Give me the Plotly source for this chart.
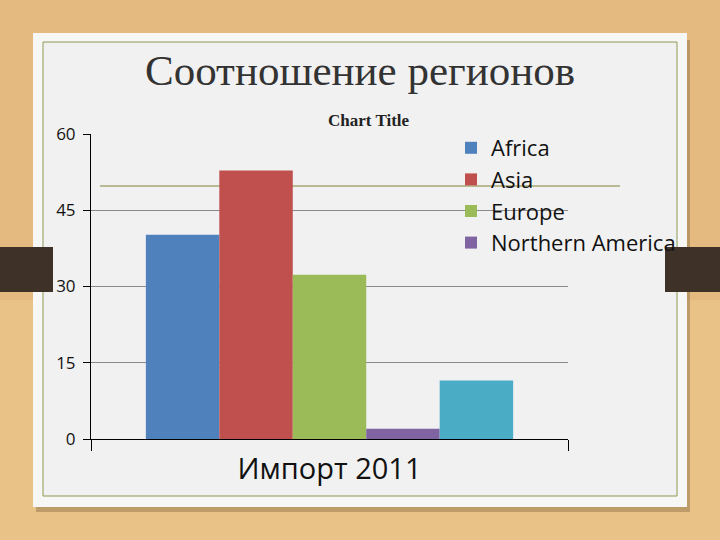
import plotly.graph_objects as go

W, H = 720, 540

category = ["Импорт 2011"]
series_names = ["Africa", "Asia", "Europe", "Northern America", "Other"]
series_values = [40.2, 52.8, 32.3, 2.0, 11.5]
series_colors = ["#4F81BD", "#C0504D", "#9BBB59", "#8064A2", "#4BACC6"]
series_in_legend = [True, True, True, True, False]
y_ticks = [0, 15, 30, 45, 60]

slide_title = "Соотношение регионов"
chart_title = "Chart Title"


def px_x(x):
    return x / W


def px_y(y):
    return 1 - y / H


fig = go.Figure()
for name, val, col, leg in zip(series_names, series_values, series_colors, series_in_legend):
    fig.add_trace(go.Bar(x=category, y=[val], name=name, marker=dict(color=col, line=dict(width=0)),
                         showlegend=leg))

shapes = [
    # lighter lower background band
    dict(type="rect", xref="paper", yref="paper", x0=0, x1=1, y0=0, y1=px_y(300),
         fillcolor="rgba(240,208,150,0.35)", line=dict(width=0), layer="below"),
    # card shadow
    dict(type="rect", xref="paper", yref="paper", x0=px_x(36), x1=px_x(690), y0=px_y(512), y1=px_y(40),
         fillcolor="rgba(90,70,40,0.30)", line=dict(width=0), layer="below"),
    # card
    dict(type="rect", xref="paper", yref="paper", x0=px_x(33), x1=px_x(687), y0=px_y(507), y1=px_y(33),
         fillcolor="#f7f7f5", line=dict(width=0), layer="below"),
    # inner panel
    dict(type="rect", xref="paper", yref="paper", x0=px_x(43), x1=px_x(677), y0=px_y(496), y1=px_y(42),
         fillcolor="#f1f1f1", line=dict(color="#8e9a55", width=1), layer="below"),
    # decorative olive line
    dict(type="line", xref="paper", yref="paper", x0=px_x(100), x1=px_x(620), y0=px_y(186), y1=px_y(186),
         line=dict(color="#a6a775", width=1.5), layer="below"),
    # side tabs
    dict(type="rect", xref="paper", yref="paper", x0=0, x1=px_x(53), y0=px_y(292), y1=px_y(247),
         fillcolor="#3e3228", line=dict(width=0), layer="below"),
    dict(type="rect", xref="paper", yref="paper", x0=px_x(665), x1=1, y0=px_y(292), y1=px_y(247),
         fillcolor="#3e3228", line=dict(width=0), layer="below"),
]

fig.update_layout(
    width=W, height=H,
    autosize=False,
    margin=dict(l=0, r=0, t=0, b=0, pad=0, autoexpand=False),
    paper_bgcolor="#e4ba80",
    plot_bgcolor="rgba(0,0,0,0)",
    barmode="group",
    bargap=0.23,
    bargroupgap=0,
    shapes=shapes,
    title=dict(text=slide_title, x=0.5, xanchor="center", y=px_y(70), yanchor="middle",
               font=dict(family="Liberation Serif", size=43, color="#333333")),
    legend=dict(x=px_x(451), y=px_y(127), xanchor="left", yanchor="top",
                bgcolor="rgba(0,0,0,0)", font=dict(family="Open Sans", size=22, color="#111111"),
                tracegroupgap=0),
    annotations=[dict(text="<b>" + chart_title + "</b>", xref="paper", yref="paper", x=px_x(369), y=px_y(120),
                      xanchor="center", yanchor="middle", showarrow=False,
                      font=dict(family="Liberation Serif", size=17, color="#222222"))],
    xaxis=dict(domain=[px_x(91), px_x(568)], type="category", showline=True, linecolor="black",
               linewidth=1, ticks="outside", tickson="boundaries", ticklen=11, tickcolor="black",
               showgrid=False, tickfont=dict(family="Open Sans", size=29, color="#111111"),
               ticklabelstandoff=4, automargin=False),
    yaxis=dict(domain=[px_y(439), px_y(134)], range=[0, 60], tickvals=y_ticks, showline=True,
               linecolor="black", linewidth=1, ticks="outside", ticklen=7, tickcolor="black",
               showgrid=True, gridcolor="#8a8a8a", gridwidth=1, zeroline=False,
               tickfont=dict(family="Open Sans", size=17, color="#111111"), ticklabelstandoff=4,
               automargin=False),
)

fig.write_html(
    "out.html",
    config={"responsive": False, "displayModeBar": False},
    default_width="720px",
    default_height="540px",
    post_script="document.body.style.margin='0';document.body.style.padding='0';"
                "document.documentElement.style.overflow='hidden';",
)
